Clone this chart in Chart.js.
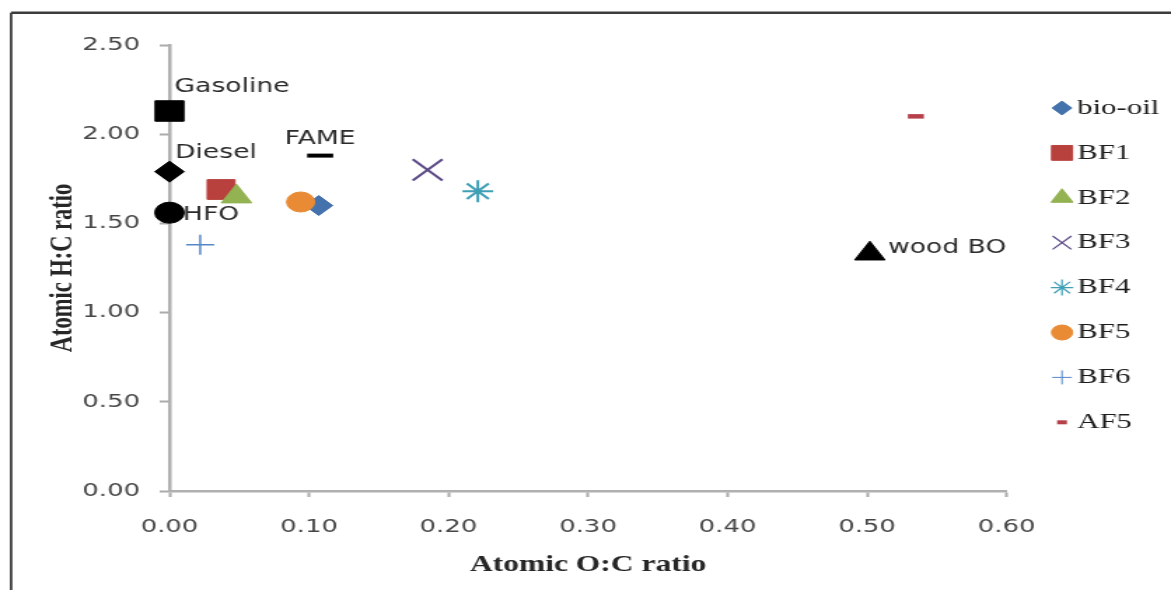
<!DOCTYPE html>
<html>
<head>
<meta charset="utf-8">
<title>Atomic H:C vs O:C ratio</title>
<script src="https://cdn.jsdelivr.net/npm/chart.js@4.4.1/dist/chart.umd.min.js"></script>
<style>
  html, body { margin: 0; padding: 0; background: #ffffff; overflow: hidden; }
  /* the figure is laid out on an 836px wide canvas and widened to the 1171px page */
  #frame { width: 836px; height: 590px; transform-origin: 0 0; transform: scaleX(1.40072); }
  canvas { display: block; }
</style>
</head>
<body>
<div id="frame"><canvas id="chart" width="836" height="590"></canvas></div>
<script>
// Atomic ratios of the blended fuels (O:C on x, H:C on y)
const blendNames = ['bio-oil', 'BF1', 'BF2', 'BF3', 'BF4', 'BF5', 'BF6', 'AF5'];
const blendOC = [0.107, 0.037, 0.048, 0.185, 0.221, 0.094, 0.022, 0.535];
const blendHC = [1.60, 1.69, 1.65, 1.80, 1.68, 1.62, 1.38, 2.10];

// Conventional fuels shown for comparison
const fuelNames = ['Gasoline', 'Diesel', 'HFO', 'FAME', 'wood BO'];
const fuelOC = [0.000, 0.000, 0.000, 0.108, 0.502];
const fuelHC = [2.13, 1.79, 1.56, 1.88, 1.33];

// Axis ticks
const xTicks = [0.0, 0.1, 0.2, 0.3, 0.4, 0.5, 0.6];
const yTicks = [0.0, 0.5, 1.0, 1.5, 2.0, 2.5];

// Marker styles: r = plot radius, lr = legend radius, bw / lbw = line widths
const blendStyle = {
  'bio-oil': { shape: 'rectRot',  color: '#4472ac', r: 10,   lr: 7,    bw: 1,   lbw: 1 },
  'BF1':     { shape: 'rect',     color: '#b8413e', r: 14,   lr: 10.5, bw: 1,   lbw: 1 },
  'BF2':     { shape: 'triangle', color: '#93b252', r: 12.5, lr: 9,    bw: 1,   lbw: 1 },
  'BF3':     { shape: 'crossRot', color: '#5b4a87', r: 15,   lr: 9.5,  bw: 2,   lbw: 1.2 },
  'BF4':     { shape: 'star',     color: '#3f9fb5', r: 11,   lr: 8,    bw: 2,   lbw: 1.2 },
  'BF5':     { shape: 'circle',   color: '#e98b35', r: 10,   lr: 7.5,  bw: 1,   lbw: 1 },
  'BF6':     { shape: 'cross',    color: '#5588c8', r: 10,   lr: 7,    bw: 1.5, lbw: 1 },
  'AF5':     { shape: 'line',     color: '#b5404a', r: 5.7,  lr: 3.5,  bw: 4.5, lbw: 4 }
};

// Reference fuel markers and their label placement (offsets from the marker)
const fuelStyle = {
  'Gasoline': { shape: 'rect',     r: 14.5, bw: 1, dx: 3.6,  dy: -24,   align: 'left' },
  'Diesel':   { shape: 'rectRot',  r: 10.5, bw: 1, dx: 3.9,  dy: -18.5, align: 'left' },
  'HFO':      { shape: 'circle',   r: 10.5, bw: 1, dx: 9.6,  dy: 2,     align: 'left' },
  'FAME':     { shape: 'line',     r: 9.3,  bw: 4, dx: 0,    dy: -16.5, align: 'center' },
  'wood BO':  { shape: 'triangle', r: 12.5, bw: 1, dx: 12.9, dy: -5.5,  align: 'left' }
};

const LEGEND = { markerX: 758.2, textX: 769, top: 108, step: 44.9 };

const datasets = [];
blendNames.forEach((name, i) => {
  const s = blendStyle[name];
  datasets.push({
    label: name,
    data: [{ x: blendOC[i], y: blendHC[i] }],
    clip: false,
    pointStyle: s.shape,
    pointRadius: s.r,
    pointHoverRadius: s.r,
    pointBackgroundColor: s.color,
    pointBorderColor: s.color,
    pointBorderWidth: s.bw
  });
});
fuelNames.forEach((name, i) => {
  const s = fuelStyle[name];
  datasets.push({
    label: name,
    data: [{ x: fuelOC[i], y: fuelHC[i] }],
    clip: false,
    pointStyle: s.shape,
    pointRadius: s.r,
    pointHoverRadius: s.r,
    pointBackgroundColor: '#000000',
    pointBorderColor: '#000000',
    pointBorderWidth: s.bw
  });
});
// later series are painted over earlier ones
datasets.forEach((d, i) => { d.order = datasets.length - i; });

// white page with the figure frame on the top and left edges
const framePlugin = {
  id: 'figureFrame',
  beforeDraw(chart) {
    const ctx = chart.ctx;
    ctx.save();
    ctx.fillStyle = '#ffffff';
    ctx.fillRect(0, 0, chart.width, chart.height);
    ctx.strokeStyle = '#3c3c3c';
    ctx.lineWidth = 2.6;
    ctx.beginPath();
    ctx.moveTo(chart.width, 12.8);
    ctx.lineTo(7.9, 12.8);
    ctx.stroke();
    ctx.lineWidth = 1.8;
    ctx.beginPath();
    ctx.moveTo(7.9, 12.8);
    ctx.lineTo(7.9, chart.height);
    ctx.stroke();
    ctx.restore();
  }
};

// names written beside the reference fuel markers
const fuelLabelPlugin = {
  id: 'fuelLabels',
  afterDatasetsDraw(chart) {
    const ctx = chart.ctx;
    ctx.save();
    ctx.font = '19px "DejaVu Sans"';
    ctx.fillStyle = '#2b2b2b';
    ctx.textBaseline = 'middle';
    fuelNames.forEach((name, i) => {
      const meta = chart.getDatasetMeta(blendNames.length + i);
      const pt = meta.data[0];
      const s = fuelStyle[name];
      ctx.textAlign = s.align;
      ctx.fillText(name, pt.x + s.dx, pt.y + s.dy);
    });
    ctx.restore();
  }
};

// legend for the blended fuels
const blendLegendPlugin = {
  id: 'blendLegend',
  afterDraw(chart) {
    const ctx = chart.ctx;
    const drawPoint = Chart.helpers && Chart.helpers.drawPoint;
    ctx.save();
    blendNames.forEach((name, i) => {
      const s = blendStyle[name];
      const y = LEGEND.top + i * LEGEND.step;
      if (drawPoint) {
        ctx.fillStyle = s.color;
        ctx.strokeStyle = s.color;
        ctx.lineWidth = s.lbw;
        drawPoint(ctx, { pointStyle: s.shape, radius: s.lr, rotation: 0, borderWidth: s.lbw }, LEGEND.markerX, y);
      }
      ctx.fillStyle = '#1c1c1c';
      ctx.font = '22px "Liberation Serif"';
      ctx.textAlign = 'left';
      ctx.textBaseline = 'middle';
      ctx.fillText(name, LEGEND.textX, y);
    });
    ctx.restore();
  }
};

const tickFont = { family: '"DejaVu Sans"', size: 18.5 };
const titleFont = { family: '"Liberation Serif"', size: 22.5, weight: 'bold' };

new Chart(document.getElementById('chart'), {
  type: 'scatter',
  data: { datasets },
  options: {
    responsive: false,
    animation: false,
    devicePixelRatio: 1,
    events: [],
    layout: { padding: { top: 45, right: 117.4, bottom: 0, left: 0 } },
    plugins: { legend: { display: false }, tooltip: { enabled: false } },
    scales: {
      x: {
        type: 'linear',
        position: 'bottom',
        min: xTicks[0],
        max: xTicks[xTicks.length - 1],
        afterBuildTicks: (scale) => { scale.ticks = xTicks.map(v => ({ value: v })); },
        afterFit: (scale) => { scale.height = 99; },
        ticks: {
          callback: (v) => Number(v).toFixed(2),
          font: tickFont,
          color: '#474747',
          padding: 19,
          maxRotation: 0,
          autoSkip: false
        },
        grid: { drawOnChartArea: false, drawTicks: true, tickLength: 6, tickColor: '#ababab', tickWidth: 2 },
        border: { display: true, color: '#b0b0b0', width: 2.5 },
        title: { display: true, text: 'Atomic O:C ratio', font: titleFont, color: '#262626', padding: { top: 0, bottom: 11.5 } }
      },
      y: {
        type: 'linear',
        position: 'left',
        min: yTicks[0],
        max: yTicks[yTicks.length - 1],
        afterBuildTicks: (scale) => { scale.ticks = yTicks.map(v => ({ value: v })); },
        afterFit: (scale) => { scale.width = 121.0; },
        ticks: {
          callback: (v) => Number(v).toFixed(2),
          font: tickFont,
          color: '#474747',
          padding: 14,
          autoSkip: false
        },
        grid: { drawOnChartArea: false, drawTicks: true, tickLength: 7, tickColor: '#ababab', tickWidth: 2 },
        border: { display: true, color: '#b0b0b0', width: 2.5 },
        title: { display: true, text: 'Atomic H:C ratio', font: titleFont, color: '#262626', padding: { top: 31.8, bottom: 0 } }
      }
    }
  },
  plugins: [framePlugin, fuelLabelPlugin, blendLegendPlugin]
});
</script>
</body>
</html>
